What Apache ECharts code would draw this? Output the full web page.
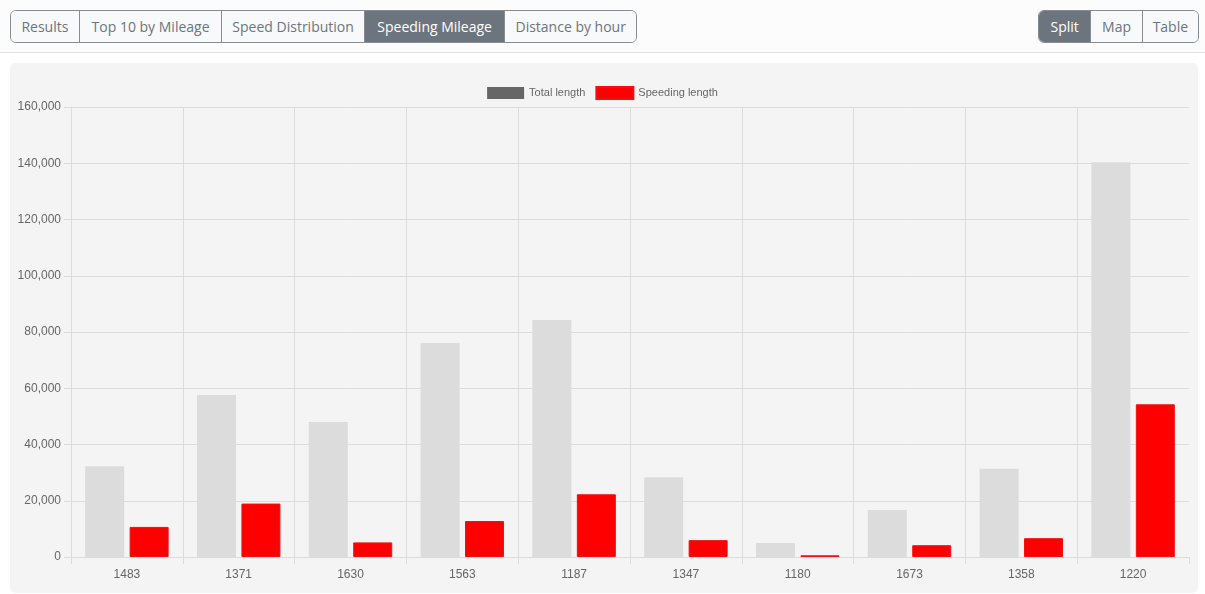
<!DOCTYPE html>
<html>
<head>
<meta charset="utf-8">
<script src="https://cdn.jsdelivr.net/npm/echarts@6/dist/echarts.min.js"></script>
<style>
  html, body { margin: 0; padding: 0; background: #fff; }
  body { width: 1205px; height: 594px; position: relative; overflow: hidden; font-family: "Open Sans", "Noto Sans", sans-serif; }
  .topbar { position: absolute; left: 0; top: 0; width: 1205px; height: 52px; background: #fcfcfc; border-bottom: 1px solid #e2e2e2; }
  .group { position: absolute; top: 10px; height: 33px; display: flex; border: 1px solid #878c91; border-radius: 6px; overflow: hidden; box-sizing: border-box; }
  .group div { height: 100%; box-sizing: border-box; display: flex; align-items: center; justify-content: center; font-size: 14px; color: #6c757d; background: #f8f9fa; border-left: 1px solid #878c91; }
  .group div:first-child { border-left: none; }
  .group div.active { background: #6c757d; color: #fff; }
  .panel { position: absolute; left: 10px; top: 63px; width: 1188px; height: 530px; background: #f4f4f4; border-radius: 5px; }
  #chart { position: absolute; left: 0; top: 0; width: 1205px; height: 594px; }
</style>
</head>
<body>
<div class="topbar">
  <div class="group" style="left:10px;width:627px;">
    <div style="width:68px">Results</div>
    <div style="width:143px">Top 10 by Mileage</div>
    <div style="width:143px">Speed Distribution</div>
    <div class="active" style="width:141px">Speeding Mileage</div>
    <div style="width:132px">Distance by hour</div>
  </div>
  <div class="group" style="left:1038px;width:161px;">
    <div class="active" style="width:52px">Split</div>
    <div style="width:52px">Map</div>
    <div style="width:57px">Table</div>
  </div>
</div>
<div class="panel"></div>
<div id="chart"></div>
<script>
// vehicle ids along the x axis
const vehicles = ['1483', '1371', '1630', '1563', '1187', '1347', '1180', '1673', '1358', '1220']
const totalLength = [32300, 57600, 48000, 76100, 84300, 28400, 5000, 16700, 31400, 140400]
const speedingLength = [10700, 19000, 5200, 12800, 22300, 6000, 600, 4200, 6700, 54300]

const chart = echarts.init(document.getElementById('chart'))
const font = '"Liberation Sans", Arial, sans-serif'
const gridColor = '#dcdcdc'

const option = {
  animation: false,
  textStyle: { fontFamily: font },
  legend: {
    top: 81,
    left: 'center',
    itemWidth: 37,
    itemHeight: 12,
    itemGap: 10,
    icon: 'rect',
    textStyle: { color: '#666', fontSize: 11, fontFamily: font },
    data: [
      { name: 'Total length', itemStyle: { color: '#666' } },
      { name: 'Speeding length', itemStyle: { color: '#ff0000' } }
    ]
  },
  grid: {
    left: 71,
    top: 107,
    width: 1118,
    height: 450,
    show: false,
    containLabel: false
  },
  xAxis: {
    type: 'category',
    data: vehicles,
    boundaryGap: true,
    axisLine: { lineStyle: { color: gridColor } },
    axisTick: { show: true, length: 7, lineStyle: { color: gridColor } },
    axisLabel: { color: '#666', fontSize: 12, margin: 12, fontFamily: font },
    splitLine: { show: true, showMinLine: false, showMaxLine: false, lineStyle: { color: gridColor } }
  },
  yAxis: {
    type: 'value',
    min: 0,
    max: 160000,
    interval: 20000,
    axisLine: { show: true, lineStyle: { color: gridColor } },
    axisTick: { show: true, length: 7, lineStyle: { color: gridColor } },
    axisLabel: {
      color: '#666',
      fontSize: 12,
      margin: 10,
      fontFamily: font,
      formatter: v => v.toLocaleString('en-US')
    },
    splitLine: { show: true, lineStyle: { color: gridColor } }
  },
  series: [
    {
      name: 'Total length',
      type: 'bar',
      data: totalLength,
      barWidth: 39,
      barGap: '14%',
      itemStyle: { color: '#dcdcdc' }
    },
    {
      name: 'Speeding length',
      type: 'bar',
      data: speedingLength,
      barWidth: 39,
      barGap: '14%',
      itemStyle: { color: '#ff0000', borderColor: '#f21010', borderWidth: 1 }
    }
  ]
}
chart.setOption(option)
</script>
</body>
</html>
